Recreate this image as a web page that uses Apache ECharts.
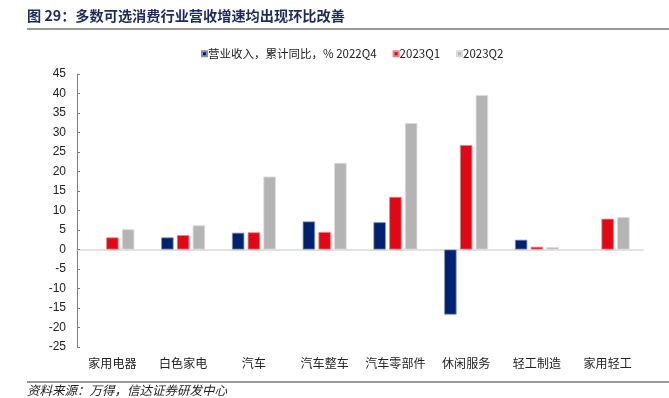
<!DOCTYPE html>
<html>
<head>
<meta charset="utf-8">
<script src="https://cdn.jsdelivr.net/npm/echarts@6/dist/echarts.min.js"></script>
<style>
  html, body { margin: 0; padding: 0; background: #fff; }
  #chart { width: 669px; height: 398px; }
</style>
</head>
<body>
<div id="chart"></div>
<script>
// 行业分类
var categories = ['家用电器', '白色家电', '汽车', '汽车整车', '汽车零部件', '休闲服务', '轻工制造', '家用轻工'];
// 营业收入累计同比（%）
var q4_2022 = [null, 3.1, 4.3, 7.2, 7.0, -16.7, 2.5, null];
var q1_2023 = [3.1, 3.7, 4.4, 4.5, 13.5, 26.8, 0.7, 7.9];
var q2_2023 = [5.2, 6.2, 18.7, 22.2, 32.4, 39.6, 0.6, 8.3];
var seriesNames = ['营业收入，累计同比，% 2022Q4', '2023Q1', '2023Q2'];
var seriesColors = ['#002070', '#e00814', '#b4b4b4'];
var borderColors = ['#8090b8', '#f08088', '#dadada'];

var chart = echarts.init(document.getElementById('chart'));

var cnFont = '"Noto Sans CJK SC", "Liberation Sans", sans-serif';
var numFont = '"Liberation Sans", Arial, sans-serif';

function makeSeries(name, data, i) {
    return {
        name: name,
        type: 'bar',
        data: data,
        barGap: '27%',
        barCategoryGap: '38%',
        itemStyle: {
            color: seriesColors[i],
            borderColor: borderColors[i],
            borderWidth: 0.8
        }
    };
}

var option = {
    animation: false,
    backgroundColor: '#fff',
    textStyle: { fontFamily: cnFont },
    legend: {
        top: 43,
        left: 196,
        itemWidth: 5,
        itemHeight: 5,
        itemGap: 16,
        icon: 'rect',
        textStyle: { fontSize: 11.5, color: '#222', fontFamily: cnFont, padding: [0, 0, 0, -4] },
        data: seriesNames
    },
    grid: { left: 77, right: 26, top: 74, bottom: 51 },
    xAxis: [
        {
            type: 'category',
            data: categories,
            position: 'bottom',
            axisLine: { show: false, onZero: false },
            axisTick: { show: false },
            axisLabel: { interval: 0, color: '#222', fontSize: 12, margin: 10, fontFamily: cnFont }
        },
        {
            // 零轴线
            type: 'category',
            data: categories,
            axisLine: { show: true, onZero: true, lineStyle: { color: '#d9d9d9', width: 1.5 } },
            axisTick: { show: false },
            axisLabel: { show: false }
        }
    ],
    yAxis: {
        type: 'value',
        min: -25,
        max: 45,
        interval: 5,
        splitLine: { show: false },
        axisLine: { show: true, lineStyle: { color: '#7f7f7f', width: 1 } },
        axisTick: { show: true, inside: true, length: 3, lineStyle: { color: '#7f7f7f' } },
        axisLabel: { color: '#222', fontSize: 12, margin: 11, fontFamily: numFont }
    },
    series: [
        makeSeries(seriesNames[0], q4_2022, 0),
        makeSeries(seriesNames[1], q1_2023, 1),
        makeSeries(seriesNames[2], q2_2023, 2)
    ],
    graphic: [
        {
            type: 'text',
            left: 27,
            top: 9,
            style: {
                text: '图 29：多数可选消费行业营收增速均出现环比改善',
                font: 'bold 14.2px ' + cnFont,
                fill: '#1c2a5c'
            }
        },
        {
            type: 'line',
            shape: { x1: 27, y1: 29, x2: 669, y2: 29 },
            style: { stroke: '#333', lineWidth: 1.2 }
        },
        {
            type: 'line',
            shape: { x1: 27, y1: 382, x2: 669, y2: 382 },
            style: { stroke: '#333', lineWidth: 1.2 }
        },
        {
            type: 'text',
            left: 27,
            top: 384,
            style: {
                text: '资料来源：万得，信达证券研发中心',
                font: 'italic 12.5px ' + cnFont,
                fill: '#222'
            }
        }
    ]
};

chart.setOption(option);
</script>
</body>
</html>
